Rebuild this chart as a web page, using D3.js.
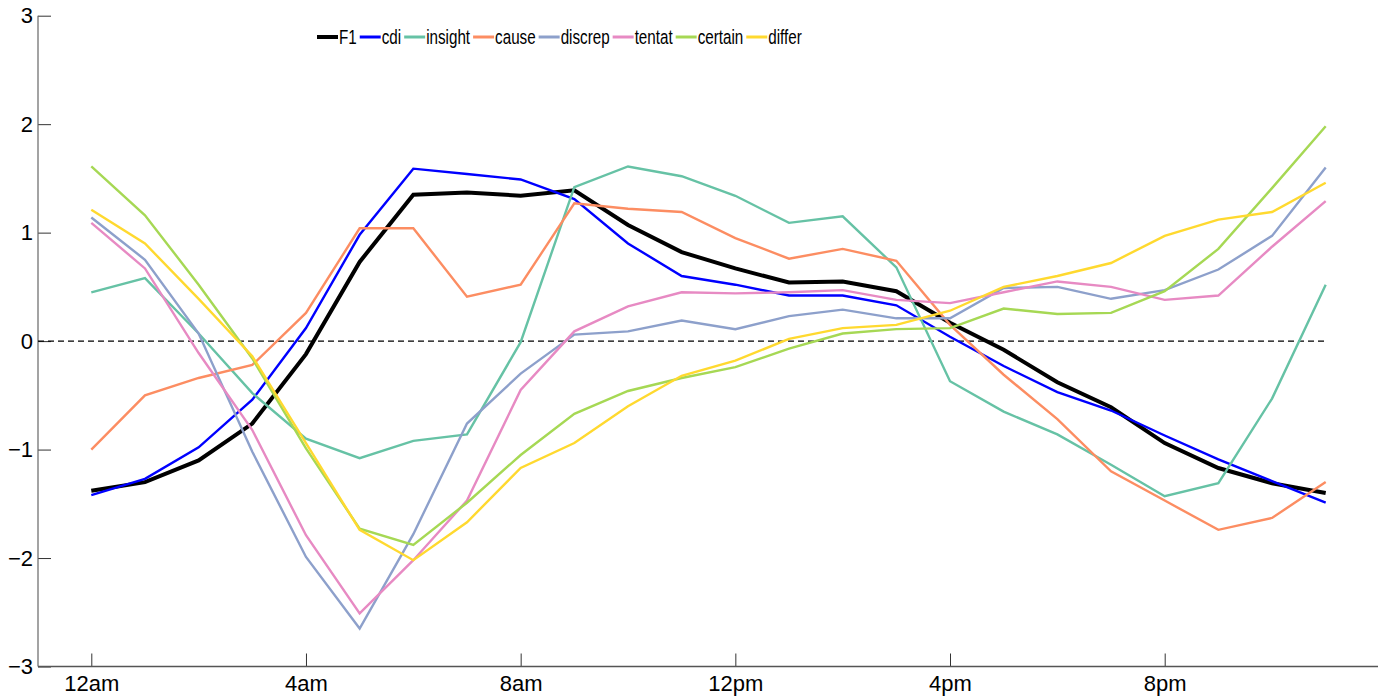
<!DOCTYPE html>
<html><head><meta charset="utf-8">
<script src="https://cdn.jsdelivr.net/npm/d3@7"></script>
<style>
html,body{margin:0;padding:0;background:#fff;}
svg{display:block;}
</style></head>
<body>
<svg id="chart" width="1383" height="698"></svg>
<script>
const hours = d3.range(0, 24);
const xTickValues = [0, 4, 8, 12, 16, 20];
const xTickLabels = ["12am", "4am", "8am", "12pm", "4pm", "8pm"];
const yTickValues = [-3, -2, -1, 0, 1, 2, 3];

const seriesNames = ["F1", "cdi", "insight", "cause", "discrep", "tentat", "certain", "differ"];
const seriesColors = ["#000000", "#0000ff", "#66c2a5", "#fc8d62", "#8da0cb", "#e78ac3", "#a6d854", "#ffd92f"];
const seriesWidths = [4, 2.4, 2.4, 2.4, 2.4, 2.4, 2.4, 2.4];

const F1      = [-1.38,-1.30,-1.10,-0.76,-0.12,0.73,1.35,1.37,1.34,1.39,1.07,0.82,0.67,0.54,0.55,0.46,0.17,-0.08,-0.38,-0.61,-0.94,-1.17,-1.31,-1.40];
const cdi     = [-1.42,-1.27,-0.98,-0.54,0.12,0.98,1.59,1.54,1.49,1.31,0.90,0.60,0.52,0.42,0.42,0.33,0.04,-0.23,-0.47,-0.64,-0.87,-1.09,-1.29,-1.49];
const insight = [0.45,0.58,0.07,-0.48,-0.90,-1.08,-0.92,-0.86,-0.01,1.42,1.61,1.52,1.34,1.09,1.15,0.68,-0.37,-0.65,-0.86,-1.14,-1.43,-1.31,-0.53,0.52];
const cause   = [-1.00,-0.50,-0.34,-0.22,0.26,1.04,1.04,0.41,0.52,1.27,1.22,1.19,0.95,0.76,0.85,0.74,0.15,-0.31,-0.72,-1.20,-1.47,-1.74,-1.63,-1.30];
const discrep = [1.14,0.75,0.07,-1.02,-1.99,-2.65,-1.78,-0.76,-0.30,0.06,0.09,0.19,0.11,0.23,0.29,0.21,0.21,0.49,0.50,0.39,0.47,0.66,0.97,1.60];
const tentat  = [1.09,0.67,-0.11,-0.82,-1.79,-2.51,-2.02,-1.47,-0.45,0.09,0.32,0.45,0.44,0.45,0.47,0.38,0.35,0.45,0.55,0.50,0.38,0.42,0.87,1.29];
const certain = [1.61,1.16,0.52,-0.16,-0.99,-1.73,-1.88,-1.49,-1.05,-0.67,-0.46,-0.34,-0.24,-0.07,0.07,0.11,0.12,0.30,0.25,0.26,0.46,0.85,1.41,1.98];
const differ  = [1.21,0.90,0.39,-0.14,-0.94,-1.74,-2.02,-1.67,-1.17,-0.94,-0.60,-0.32,-0.18,0.02,0.12,0.15,0.28,0.50,0.60,0.72,0.97,1.12,1.19,1.46];

const seriesValues = [F1, cdi, insight, cause, discrep, tentat, certain, differ];

const svg = d3.select("#chart");
const axisLeftX = 38, axisRightX = 1378;
const x = d3.scaleLinear().domain([0, 23]).range([91.3, 1325.7]);
const y = d3.scaleLinear().domain([-3, 3]).range([666.5, 15.7]);
const FONT = "Liberation Sans, Arial, Helvetica, sans-serif";

// axes
const xAxis = d3.axisBottom(x).tickValues(xTickValues)
  .tickFormat((d, i) => xTickLabels[i]).tickSizeInner(-13).tickSizeOuter(0).tickPadding(9);
const gx = svg.append("g").attr("transform", `translate(0,${y(-3)})`).call(xAxis);
gx.attr("font-family", FONT).attr("font-size", 22);
gx.select(".domain").remove();
gx.selectAll(".tick line").attr("stroke", "#333").attr("stroke-width", 1);
gx.selectAll("text").attr("fill", "#000");

const yAxis = d3.axisLeft(y).tickValues(yTickValues).tickFormat(d3.format("d"))
  .tickSizeInner(-13).tickSizeOuter(0).tickPadding(5);
const gy = svg.append("g").attr("transform", `translate(${axisLeftX},0)`).call(yAxis);
gy.attr("font-family", FONT).attr("font-size", 22);
gy.select(".domain").remove();
gy.selectAll(".tick line").attr("stroke", "#333").attr("stroke-width", 1);
gy.selectAll("text").attr("fill", "#000");

svg.append("line").attr("x1", axisLeftX).attr("x2", axisLeftX).attr("y1", y(3)).attr("y2", y(-3))
  .attr("stroke", "#666").attr("stroke-width", 1.2);
svg.append("line").attr("x1", axisLeftX).attr("x2", axisRightX).attr("y1", y(-3)).attr("y2", y(-3))
  .attr("stroke", "#555").attr("stroke-width", 1.4);

// zero line
svg.append("line").attr("x1", axisLeftX).attr("x2", x(23)).attr("y1", y(0)).attr("y2", y(0))
  .attr("stroke", "#000").attr("stroke-width", 1.4).attr("stroke-dasharray", "6,4");

// lines
const line = d3.line().x((d, i) => x(hours[i])).y(d => y(d));
seriesValues.forEach((vals, k) => {
  svg.append("path").datum(vals).attr("d", line)
    .attr("fill", "none").attr("stroke", seriesColors[k])
    .attr("stroke-width", seriesWidths[k]).attr("stroke-linejoin", "miter");
});

// legend (narrow Helvetica look: regular font compressed horizontally)
const lg = svg.append("g");
let cx = 317;
const ly = 37;
const squeeze = 0.78;
seriesNames.forEach((name, k) => {
  lg.append("line").attr("x1", cx).attr("x2", cx + 21).attr("y1", ly).attr("y2", ly)
    .attr("stroke", seriesColors[k]).attr("stroke-width", k === 0 ? 4 : 3);
  const tg = lg.append("g").attr("transform", `translate(${cx + 22},${ly}) scale(${squeeze},1)`);
  const t = tg.append("text").attr("x", 0).attr("y", 0).attr("dy", "0.36em")
    .attr("font-family", FONT).attr("font-size", 19.5).attr("fill", "#000").text(name);
  cx += 22 + t.node().getComputedTextLength() * squeeze + 3;
});
</script>
</body></html>
